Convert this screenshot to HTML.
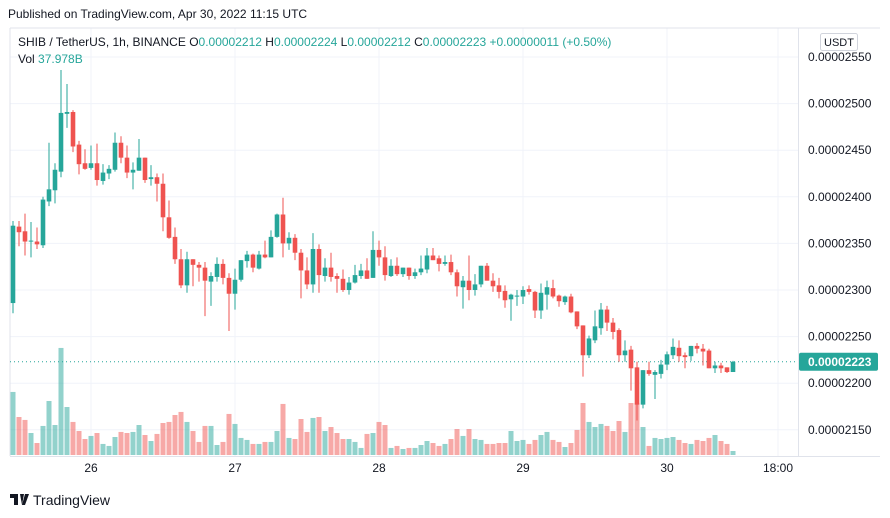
<!DOCTYPE html>
<html><head><meta charset="utf-8"><style>
body{margin:0;background:#fff;font-family:"Liberation Sans",sans-serif}
#wrap{position:relative;width:890px;height:518px;overflow:hidden;background:#fff}
svg text{font-family:"Liberation Sans",sans-serif}
</style></head><body>
<div id="wrap">
<svg id="chart" width="890" height="518"></svg>
</div>
<script>
const opens=[2286,2368,2363,2352,2352,2348,2395,2407,2427,2489,2491,2456,2436,2431,2436,2417,2425,2429,2458,2442,2426,2428,2442,2419,2421,
2414,2378,2357,2333,2305,2333,2327,2324,2309,2314,2328,2313,2296,2311,2331,2338,2323,2338,2335,2357,2381,2350,2356,2340,
2321,2306,2344,2315,2324,2315,2312,2300,2308,2315,2321,2313,2343,2335,2315,2326,2317,2324,2315,2319,2322,2337,2334,2328,
2330,2319,2303,2310,2300,2306,2326,2310,2305,2299,2290,2293,2293,2301,2298,2278,2295,2302,2294,2287,2293,2277,2262,2230,
2246,2259,2279,2265,2257,2230,2236,2217,2177,2214,2209,2210,2220,2230,2238,2230,2229,2240,2237,2235,2216,2219,2217,2212];
const highs=[2374,2374,2382,2373,2367,2400,2458,2436,2536,2521,2493,2460,2451,2455,2457,2435,2434,2469,2465,2455,2437,2462,2442,2434,2425,
2425,2396,2367,2344,2341,2333,2330,2330,2319,2335,2333,2318,2323,2332,2342,2339,2342,2353,2364,2382,2399,2362,2360,2344,
2335,2361,2349,2334,2340,2318,2322,2314,2327,2328,2334,2363,2353,2347,2333,2335,2324,2324,2323,2337,2345,2345,2337,2337,
2338,2322,2315,2337,2317,2326,2329,2318,2313,2305,2296,2300,2304,2305,2299,2307,2310,2311,2295,2294,2296,2277,2262,2251,
2278,2286,2283,2270,2259,2246,2240,2223,2214,2223,2214,2225,2234,2248,2246,2233,2240,2243,2242,2237,2223,2222,2217,2224];
const lows=[2275,2347,2337,2335,2344,2345,2390,2393,2421,2474,2448,2424,2429,2429,2412,2413,2419,2427,2436,2420,2408,2428,2415,2412,2395,
2363,2355,2328,2302,2297,2304,2309,2272,2283,2309,2306,2256,2279,2309,2324,2319,2322,2334,2335,2356,2335,2343,2332,2291,
2301,2297,2297,2309,2309,2297,2298,2295,2307,2312,2312,2313,2326,2310,2314,2315,2314,2311,2312,2316,2318,2332,2320,2326,
2316,2293,2280,2289,2294,2303,2310,2298,2291,2281,2267,2283,2285,2295,2270,2269,2279,2291,2282,2284,2275,2258,2207,2227,
2243,2252,2256,2247,2223,2223,2192,2160,2173,2208,2183,2205,2214,2226,2223,2216,2224,2232,2219,2216,2211,2211,2211,2212];
const closes=[2369,2362,2352,2353,2349,2397,2408,2429,2490,2491,2454,2435,2430,2436,2418,2426,2430,2458,2442,2426,2429,2442,2418,2421,2414,
2378,2356,2333,2305,2333,2327,2324,2310,2315,2328,2313,2296,2311,2332,2338,2324,2338,2335,2357,2381,2350,2356,2340,2321,
2306,2344,2316,2324,2314,2312,2300,2308,2316,2321,2312,2343,2335,2316,2326,2317,2324,2315,2319,2323,2337,2332,2328,2330,
2319,2304,2310,2300,2306,2326,2310,2304,2298,2289,2295,2294,2300,2298,2278,2297,2303,2293,2288,2293,2276,2261,2230,2248,
2261,2279,2265,2255,2230,2235,2216,2177,2214,2210,2212,2220,2231,2239,2229,2228,2240,2237,2234,2216,2219,2216,2212,2223];
const volumes=[599,361,333,209,114,276,513,285,1017,456,314,228,152,181,209,105,86,171,219,209,219,285,190,133,200,
304,314,380,409,314,228,124,276,276,95,124,390,295,162,143,105,105,124,124,228,485,162,152,342,
219,352,361,228,266,209,152,152,124,67,200,209,314,285,67,86,57,67,67,95,133,114,86,105,
152,247,181,247,152,143,105,105,114,114,228,133,143,105,143,190,219,143,124,76,114,238,494,314,
266,295,276,228,323,219,494,494,266,86,162,152,162,171,143,114,105,143,133,162,190,133,105,38];
const priceTicks=[2550,2500,2450,2400,2350,2300,2250,2200,2150];
const dayLabels=["26","27","28","29","30","18:00"];
const dayIndex=[13,37,61,85,109,127.5];

const NS="http://www.w3.org/2000/svg";
const svg=document.getElementById('chart');
function el(t,a,p){const e=document.createElementNS(NS,t);for(const k in a)e.setAttribute(k,a[k]);(p||svg).appendChild(e);return e;}
const yP=p=>57+(2550-p)*0.932;
const xI=i=>13+6*i;
const yV=v=>455-v/9.5;
const G="#26a69a",R="#ef5350";

// grid
const grid=el('g',{});


priceTicks.forEach(p=>{el('line',{x1:10,x2:798,y1:yP(p),y2:yP(p),stroke:"#f0f3fa","stroke-width":1},grid);});
dayIndex.forEach(d=>{el('line',{x1:xI(d),x2:xI(d),y1:28,y2:456,stroke:"#f0f3fa","stroke-width":1},grid);});
// borders
el('line',{x1:10,x2:10,y1:28,y2:456,stroke:"#e0e3eb"});
el('line',{x1:798.5,x2:798.5,y1:28,y2:456,stroke:"#e0e3eb"});
el('line',{x1:10,x2:880,y1:456.5,y2:456.5,stroke:"#e0e3eb"});
el('line',{x1:10,x2:880,y1:28,y2:28,stroke:"#e0e3eb"});

// volumes
const vg=el('g',{});


volumes.forEach((v,i)=>{
  const up=closes[i]>=opens[i];
  const b=el('rect',{x:xI(i)-2.5,y:yV(v),width:5,height:455-yV(v),fill:up?"rgba(38,166,154,0.5)":"rgba(239,83,80,0.5)"},vg);
  
  
});
// last price line
el('line',{x1:10,x2:798,y1:yP(2223),y2:yP(2223),stroke:G,"stroke-width":1,"stroke-dasharray":"1 3"});
// candles
const cg=el('g',{});


opens.forEach((o,i)=>{
  const c=closes[i],up=c>=o,col=up?G:R,x=xI(i);
  const g=el('g',{},cg);
  
  
  el('line',{x1:x,x2:x,y1:yP(highs[i]),y2:yP(lows[i]),stroke:col,"stroke-width":1},g);
  const t=yP(Math.max(o,c)),b=yP(Math.min(o,c));
  el('rect',{x:x-2.3,y:t,width:4.6,height:Math.max(1,b-t),fill:col},g);
});
// price axis
priceTicks.forEach(p=>{
  const t=el('text',{x:808,y:yP(p)+4,"font-size":12,fill:"#131722"});
  t.textContent="0.0000"+p;
  
  
});
dayLabels.forEach((d,k)=>{
  const t=el('text',{x:xI(dayIndex[k]),y:472,"font-size":12,fill:"#131722","text-anchor":"middle"});
  t.textContent=d;
  
  
});
// last price tag
const tag=el('g',{});


el('rect',{x:799,y:yP(2223)-9,width:79,height:18,fill:G,rx:2},tag);
const lt=el('text',{x:808,y:yP(2223)+4,"font-size":12,fill:"#fff","font-weight":"bold"},tag);
lt.textContent="0.00002223";
// USDT button
const ub=el('g',{});


el('rect',{x:820.5,y:33.5,width:37,height:17,fill:"#fff",stroke:"#d1d4dc",rx:2},ub);
const ut=el('text',{x:839,y:46,"font-size":11,fill:"#131722","text-anchor":"middle"},ub);ut.textContent="USDT";
// header texts
function txt(x,y,s,fill,size,name){const t=el('text',{x:x,y:y,"font-size":size,fill:fill});t.textContent=s;return t;}
txt(8,18,"Published on TradingView.com, Apr 30, 2022 11:15 UTC","#131722",12,'publish-info');
const h=el('text',{x:18,y:46,"font-size":12,fill:"#131722"});


h.innerHTML='SHIB / TetherUS, 1h, BINANCE <tspan fill="#131722">O</tspan><tspan fill="#26a69a">0.00002212 </tspan><tspan>H</tspan><tspan fill="#26a69a">0.00002224 </tspan><tspan>L</tspan><tspan fill="#26a69a">0.00002212 </tspan><tspan>C</tspan><tspan fill="#26a69a">0.00002223 +0.00000011 (+0.50%)</tspan>';
const v=el('text',{x:18,y:63,"font-size":12,fill:"#131722"});


v.innerHTML='Vol <tspan fill="#26a69a">37.978B</tspan>';
// logo
const lg=el('g',{});


el('path',{d:"M10 494h8v11h-4v-7h-4z M20 494h4l-2 11z M25 494h4l-4 11h-3z",fill:"#131722"},lg);
const lt2=el('text',{x:33,y:505,"font-size":14,fill:"#131722"},lg);lt2.textContent="TradingView";
</script>
</body></html>
